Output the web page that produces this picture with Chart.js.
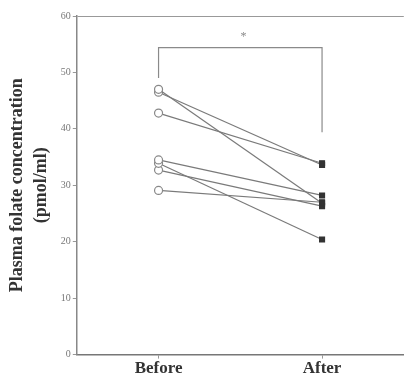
<!DOCTYPE html>
<html>
<head>
<meta charset="utf-8">
<script src="https://cdn.jsdelivr.net/npm/chart.js@4/dist/chart.umd.min.js"></script>
<style>
  html, body { margin: 0; padding: 0; background: #fff; }
  #wrap { width: 409px; height: 379px; }
</style>
</head>
<body>
<div id="wrap"><canvas id="folate-chart"></canvas></div>
<script>
const groups = ["Before", "After"];
const beforeValues = [47.0, 46.5, 42.8, 34.5, 33.9, 32.7, 29.1];
const afterValues = [26.8, 33.6, 33.9, 28.2, 20.4, 26.3, 27.0];
const yTicks = [0, 10, 20, 30, 40, 50, 60];
const bracketLeft = 49.0;
const bracketTop = 54.4;
const bracketRight = 39.4;
const sigLabel = "*";

const lineGray = "#7a7a7a";
const serif = "'Liberation Serif', 'DejaVu Serif', serif";

const pairSets = beforeValues.map((b, i) => ({
  label: "Subject " + (i + 1),
  data: [{ x: 1, y: b }, { x: 2, y: afterValues[i] }],
  borderColor: lineGray,
  borderWidth: 1.2,
  pointStyle: ["circle", "rect"],
  pointRadius: [4, 3.5],
  pointBackgroundColor: ["#ffffff", "#333"],
  pointBorderColor: ["#888", "#333"],
  pointBorderWidth: 1.2,
  tension: 0,
}));

const bracketSet = {
  label: "bracket",
  data: [
    { x: 1, y: bracketLeft },
    { x: 1, y: bracketTop },
    { x: 2, y: bracketTop },
    { x: 2, y: bracketRight },
  ],
  borderColor: "#8a8a8a",
  borderWidth: 1.2,
  pointRadius: 0,
  tension: 0,
};

// asterisk above the bracket
const sigPlugin = {
  id: "sig",
  afterDatasetsDraw(chart) {
    const { ctx, scales } = chart;
    const x = scales.x.getPixelForValue(1.52);
    const y = scales.y.getPixelForValue(bracketTop + 1.9);
    ctx.save();
    ctx.fillStyle = "#888";
    ctx.font = "12px " + serif;
    ctx.textAlign = "center";
    ctx.textBaseline = "middle";
    ctx.fillText(sigLabel, x, y);
    ctx.restore();
  },
};

const ctx = document.getElementById("folate-chart").getContext("2d");

new Chart(ctx, {
  type: "line",
  data: { datasets: [...pairSets, bracketSet] },
  plugins: [sigPlugin],
  options: {
    responsive: true,
    maintainAspectRatio: false,
    animation: false,
    layout: { padding: { left: 6, right: 0, top: 16, bottom: 0 } },
    plugins: {
      legend: { display: false },
      tooltip: { enabled: false },
    },
    scales: {
      x: {
        type: "linear",
        min: 0.5,
        max: 2.5,
        afterBuildTicks: (axis) => {
          axis.ticks = groups.map((g, i) => ({ value: i + 1 }));
        },
        ticks: {
          color: "#333",
          font: { family: serif, size: 17, weight: "bold" },
          padding: 0,
          callback: (v) => groups[v - 1],
        },
        grid: { display: true, drawOnChartArea: false, tickLength: 4, color: "#999" },
        border: { color: "#777", width: 1.5 },
      },
      y: {
        min: 0,
        max: 60,
        afterBuildTicks: (axis) => {
          axis.ticks = yTicks.map((v) => ({ value: v }));
        },
        ticks: {
          color: "#777",
          font: { family: serif, size: 10 },
          padding: 2,
        },
        grid: {
          color: (c) => (c.tick && c.tick.value === 60 ? "#999" : "transparent"),
          tickColor: "#999",
          tickLength: 4,
        },
        border: { color: "#888", width: 1.5 },
        title: {
          display: true,
          text: ["Plasma folate concentration", "(pmol/ml)"],
          color: "#333",
          font: { family: serif, size: 18, weight: "bold", lineHeight: 1.3 },
          padding: { top: 0, bottom: 6 },
        },
      },
    },
  },
});
</script>
</body>
</html>
